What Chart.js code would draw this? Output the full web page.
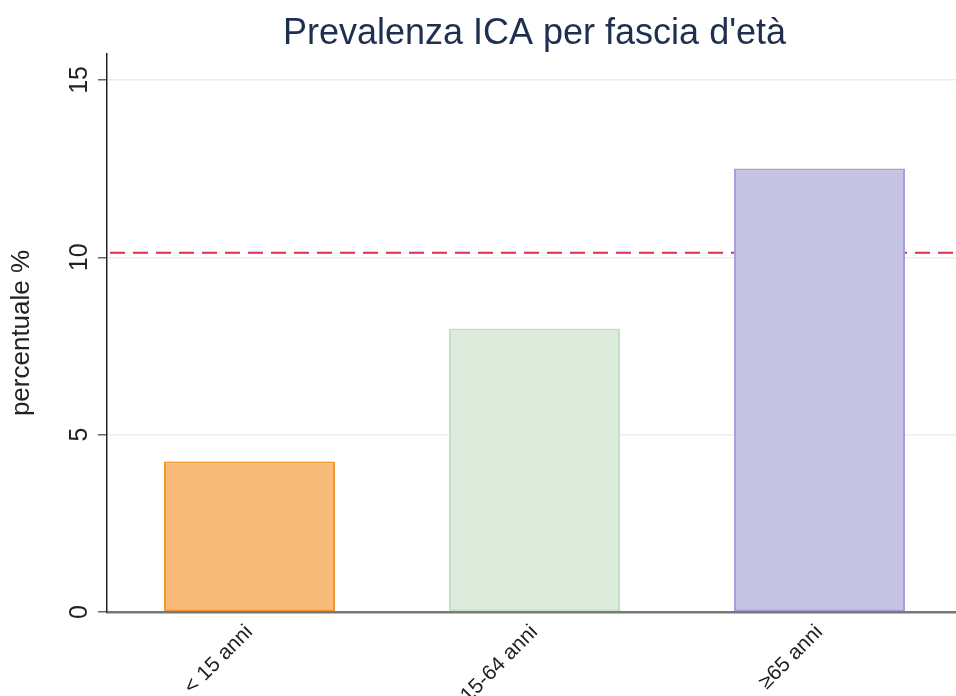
<!DOCTYPE html>
<html>
<head>
<meta charset="utf-8">
<script src="https://cdn.jsdelivr.net/npm/chart.js@4.4.1/dist/chart.umd.min.js"></script>
<style>
  html, body { margin: 0; padding: 0; background: #fff; overflow: hidden; }
  /* plot runs a few px past the right edge, as in the original */
  #wrap { width: 962px; height: 696px; }
</style>
</head>
<body>
<div id="wrap"><canvas id="chart"></canvas></div>
<script>
// data
const categories = ['< 15 anni', '15-64 anni', '\u226565 anni'];
const prevalenza = [4.24, 7.99, 12.5];
const mediaTotale = [10.13];
const yTicks = [0, 5, 10, 15];

const fillColors = ['#f9bb7a', '#dcebdc', '#c6c3e5'];
const edgeColors = ['#f39530', '#c5dec4', '#a69fdc'];
const FONT = "'Liberation Sans', Arial, sans-serif";

// dashed reference line across the plot, drawn under the bars
const refLine = {
  id: 'refLine',
  beforeDatasetsDraw(chart) {
    const {ctx, chartArea, scales} = chart;
    const y = scales.y.getPixelForValue(mediaTotale[0]);
    ctx.save();
    ctx.strokeStyle = '#dc3050';
    ctx.lineWidth = 2;
    ctx.setLineDash([15, 8]);
    ctx.beginPath();
    ctx.moveTo(chartArea.left + 3, y);
    ctx.lineTo(chartArea.right, y);
    ctx.stroke();
    ctx.restore();
  }
};

new Chart(document.getElementById('chart').getContext('2d'), {
  type: 'bar',
  data: {
    labels: categories,
    datasets: [{
      data: prevalenza,
      backgroundColor: fillColors,
      borderColor: edgeColors,
      borderWidth: 2,
      borderSkipped: false,
      barPercentage: 0.6,
      categoryPercentage: 1.0
    }]
  },
  options: {
    responsive: true,
    maintainAspectRatio: false,
    animation: false,
    layout: { padding: 0 },
    plugins: {
      legend: { display: false },
      tooltip: { enabled: false },
      title: {
        display: true,
        fullSize: false,
        text: "Prevalenza ICA per fascia d'et\u00e0",
        color: '#1e2f4f',
        font: { family: FONT, size: 36, weight: 'normal', lineHeight: 1.0 },
        padding: { top: 16, bottom: 2 },
        align: 'center'
      }
    },
    scales: {
      x: {
        afterFit(scale) { scale.height = 84; },
        grid: { display: false, drawTicks: false },
        border: { display: true, color: '#777', width: 2.5 },
        ticks: {
          color: '#222',
          font: { family: FONT, size: 21 },
          minRotation: 45,
          maxRotation: 45,
          padding: 8
        }
      },
      y: {
        min: 0,
        max: 15.73,
        afterFit(scale) { scale.width = 107; },
        afterBuildTicks(scale) { scale.ticks = yTicks.map(v => ({ value: v })); },
        grid: {
          color: '#e9eef1',
          lineWidth: 1.5,
          tickColor: '#666',
          tickLength: 9,
          drawTicks: true
        },
        border: { display: true, color: '#222', width: 1.5 },
        ticks: {
          color: '#222',
          font: { family: FONT, size: 25 },
          minRotation: 90,
          maxRotation: 90,
          crossAlign: 'center',
          padding: 4
        },
        title: {
          display: true,
          text: 'percentuale %',
          color: '#222',
          font: { family: FONT, size: 26 },
          padding: { top: 6, bottom: 0 }
        }
      }
    }
  },
  plugins: [refLine]
});
</script>
</body>
</html>
